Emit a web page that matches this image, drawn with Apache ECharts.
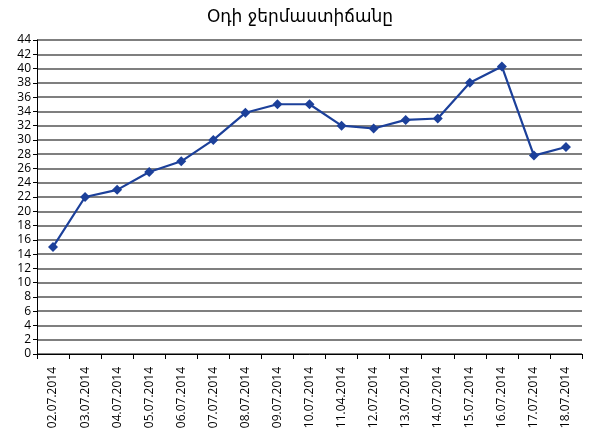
<!DOCTYPE html>
<html>
<head>
<meta charset="utf-8">
<script src="https://cdn.jsdelivr.net/npm/echarts@6/dist/echarts.min.js"></script>
<style>
html, body { margin: 0; padding: 0; background: #fff; }
#chart { width: 600px; height: 446px; }
</style>
</head>
<body>
<div id="chart"></div>
<script>
const titleText = 'Օդի ջերմաստիճանը'
const dates = ['02.07.2014', '03.07.2014', '04.07.2014', '05.07.2014', '06.07.2014', '07.07.2014',
  '08.07.2014', '09.07.2014', '10.07.2014', '11.04.2014', '12.07.2014', '13.07.2014',
  '14.07.2014', '15.07.2014', '16.07.2014', '17.07.2014', '18.07.2014']
const temps = [15, 22, 23, 25.5, 27, 30, 33.8, 35, 35, 32, 31.6, 32.8, 33, 38, 40.3, 27.8, 29]

const chart = echarts.init(document.getElementById('chart'))
chart.setOption({
  animation: false,
  title: {
    text: titleText,
    left: 'center',
    top: 4,
    textStyle: { fontFamily: 'DejaVu Sans', fontSize: 17, fontWeight: 'normal', color: '#000' }
  },
  grid: { left: 37, right: 18, top: 40, bottom: 92 },
  xAxis: {
    type: 'category',
    data: dates,
    boundaryGap: true,
    axisLine: { lineStyle: { color: '#000', width: 1 } },
    axisTick: { show: true, length: 5, lineStyle: { color: '#000' } },
    axisLabel: {
      rotate: 90,
      interval: 0,
      margin: 13,
      fontFamily: 'Open Sans',
      fontSize: 12,
      color: '#000'
    }
  },
  yAxis: {
    type: 'value',
    min: 0,
    max: 44,
    interval: 2,
    axisLine: { show: true, lineStyle: { color: '#000' } },
    axisTick: { show: true, length: 4, lineStyle: { color: '#000' } },
    axisLabel: { margin: 6, fontFamily: 'Open Sans', fontSize: 12, color: '#000' },
    splitLine: { lineStyle: { color: '#555', width: 1.5 } }
  },
  series: [{
    type: 'line',
    data: temps,
    symbol: 'diamond',
    symbolSize: 10,
    lineStyle: { color: '#1c409a', width: 2.2 },
    itemStyle: { color: '#1c409a' }
  }]
})
</script>
</body>
</html>
